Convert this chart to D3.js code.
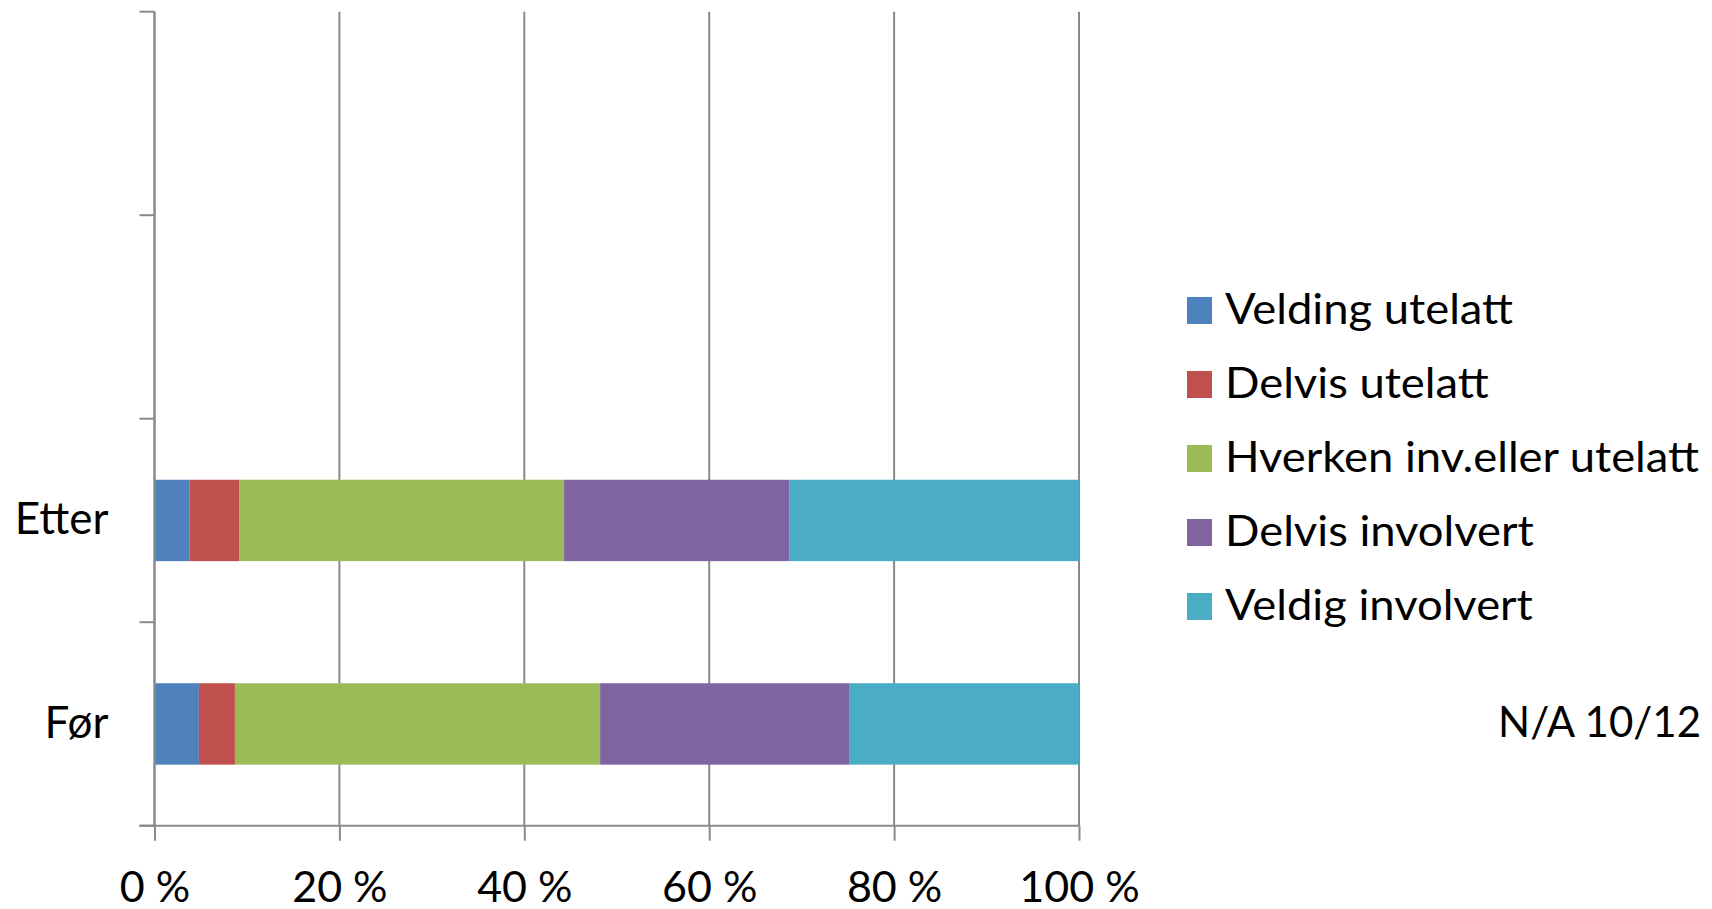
<!DOCTYPE html>
<html>
<head>
<meta charset="utf-8">
<script src="https://cdn.jsdelivr.net/npm/d3@7/dist/d3.min.js"></script>
<style>
body{margin:0;background:#fff}
text{font-family:Lato,"Open Sans",sans-serif;fill:#000}
</style>
</head>
<body>
<div id="chart"></div>
<script>
// categories, top to bottom (two empty rows on top, like the original)
const categories=['','','Etter','Før']
const seriesNames=['Velding utelatt','Delvis utelatt','Hverken inv.eller utelatt','Delvis involvert','Veldig involvert']
const seriesColors=['#4F81BD','#C0504D','#9BBB59','#8064A2','#4BACC6']
// percent per series, one array per category
const etterValues=[3.8,5.4,35.1,24.4,31.3]
const forValues=[4.8,3.9,39.5,27.0,24.8]
const xTicks=[0,20,40,60,80,100]
const xTickLabels=['0 %','20 %','40 %','60 %','80 %','100 %']
const note='N/A 10/12'

const W=1712,H=909
const margin={top:11.7,left:154.5,right:633,bottom:83.3}
const width=W-margin.left-margin.right,
	height=H-margin.top-margin.bottom
const legendStretch=1.08 // legend text a bit wider, like the original font

const rows=categories.map((c,i)=>{
	const vals=c==='Etter'?etterValues:c==='Før'?forValues:null
	const r={idx:i,label:c}
	seriesNames.forEach((s,j)=>r[s]=vals?vals[j]:0)
	return r
})

let svg=d3.select('#chart').append('svg')
	.attr('width',W)
	.attr('height',H)
	.append('g')
	.attr('transform','translate('+margin.left+','+margin.top+')')

let xScale=d3.scaleLinear()
	.domain([0,100])
	.range([0,width])

let yScale=d3.scaleBand()
	.domain(d3.range(categories.length))
	.range([0,height])

const gray='#8a8a8a'

// vertical gridlines
svg.append('g').selectAll('line')
	.data(xTicks)
	.join('line')
	.attr('x1',d=>xScale(d)).attr('x2',d=>xScale(d))
	.attr('y1',0).attr('y2',height)
	.attr('stroke',gray).attr('stroke-width',2)

// bars
const stack=d3.stack().keys(seriesNames)
const layers=stack(rows)
const barH=yScale.bandwidth()*0.4

svg.append('g').selectAll('g')
	.data(layers)
	.join('g')
	.attr('fill',(d,i)=>seriesColors[i])
	.selectAll('rect')
	.data(d=>d.filter(p=>p[1]>p[0]))
	.join('rect')
	.attr('x',d=>xScale(d[0]))
	.attr('width',d=>xScale(d[1])-xScale(d[0]))
	.attr('y',d=>yScale(d.data.idx)+(yScale.bandwidth()-barH)/2)
	.attr('height',barH)

// x axis
let xAxis=d3.axisBottom()
	.scale(xScale)
	.tickValues(xTicks)
	.tickSize(15)
	.tickFormat((d,i)=>xTickLabels[i])

let gx=svg.append('g')
	.attr('class','x-axis')
	.attr('transform',`translate(0,${height})`)
	.call(xAxis)
gx.select('.domain').attr('stroke',gray).attr('stroke-width',2).attr('d',`M-15,0H${width}`)
gx.selectAll('.tick line').attr('stroke',gray).attr('stroke-width',2)
gx.selectAll('.tick text')
	.attr('y',76).attr('dy',null)
	.attr('font-size',43)
	.style('font-family','Lato,sans-serif')

// y axis (ticks on category boundaries)
let gy=svg.append('g').attr('class','y-axis')
gy.append('line')
	.attr('x1',0).attr('x2',0).attr('y1',0).attr('y2',height)
	.attr('stroke',gray).attr('stroke-width',2)
gy.selectAll('.bound')
	.data(d3.range(categories.length+1))
	.join('line')
	.attr('class','bound')
	.attr('x1',-15).attr('x2',0)
	.attr('y1',d=>d<categories.length?yScale(d):height)
	.attr('y2',d=>d<categories.length?yScale(d):height)
	.attr('stroke',gray).attr('stroke-width',2)
gy.selectAll('.cat')
	.data(rows.filter(r=>r.label))
	.join('text')
	.attr('class','cat')
	.attr('x',-46)
	.attr('y',d=>yScale(d.idx)+yScale.bandwidth()/2+14)
	.attr('text-anchor','end')
	.attr('font-size',44)
	.text(d=>d.label)

// legend
let legend=svg.append('g')
	.attr('transform',`translate(${1187-margin.left},${297-margin.top})`)
let li=legend.selectAll('g')
	.data(seriesNames)
	.join('g')
	.attr('transform',(d,i)=>`translate(0,${i*74})`)
li.append('rect')
	.attr('width',25).attr('height',27)
	.attr('fill',(d,i)=>seriesColors[i])
li.append('text')
	.attr('x',38).attr('y',27)
	.attr('font-size',42)
	.text(d=>d)
	.each(function(){
		const len=this.getComputedTextLength()
		d3.select(this).attr('textLength',len*legendStretch).attr('lengthAdjust','spacingAndGlyphs')
	})

svg.append('text')
	.attr('x',1701-margin.left)
	.attr('y',737-margin.top)
	.attr('text-anchor','end')
	.attr('font-size',42)
	.text(note)
</script>
</body>
</html>
